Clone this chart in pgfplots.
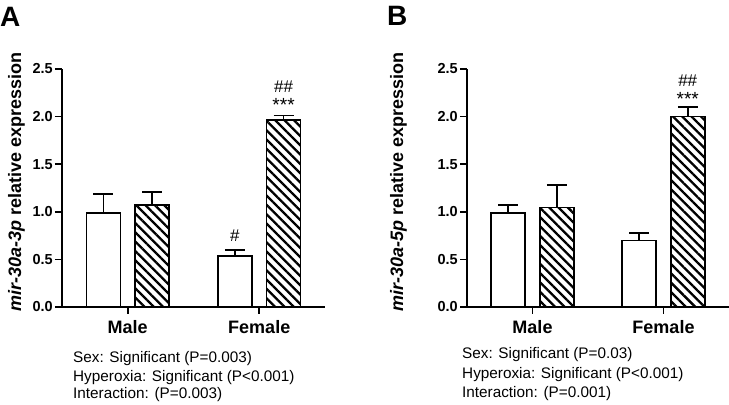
\documentclass[border=0pt]{standalone}
\usepackage{pgfplots}
\pgfplotsset{compat=1.18}
\usepackage{fontspec}
\setmainfont{Liberation Sans}
\usetikzlibrary{patterns.meta}
\pgfplotstableread{
x y e
0 0.985 0.20
1 0.535 0.065
}\Awhite
\pgfplotstableread{
x y e
0 1.07 0.135
1 1.967 0.045
}\Ahatch
\pgfplotstableread{
x y e
0 0.985 0.085
1 0.70 0.08
}\Bwhite
\pgfplotstableread{
x y e
0 1.045 0.235
1 2.00 0.10
}\Bhatch
\pgfplotsset{
  panel/.style={
    scale only axis, height=238bp,
    xmin=-0.5, xmax=1.5, ymin=0, ymax=2.5,
    axis x line*=bottom, axis y line*=left,
    axis line style={line width=1.6bp, black},
    x axis line style={shorten <=-5bp},
    xtick={0,1}, xticklabels={Male,Female},
    ytick={0,0.5,1,1.5,2,2.5},
    tick align=outside, major tick length=7bp,
    tick style={line width=1.6bp, black},
    xticklabel style={font=\fontsize{18bp}{20bp}\selectfont\bfseries, inner sep=0pt, anchor=base, yshift=-20bp},
    yticklabel style={font=\fontsize{14.5bp}{16bp}\selectfont\bfseries, inner sep=0pt, xshift=-2bp,
      /pgf/number format/fixed, /pgf/number format/fixed zerofill,
      /pgf/number format/precision=1, /pgf/number format/assume math mode=true},
    ybar, bar width=34bp,
    ylabel style={font=\fontsize{18bp}{20bp}\selectfont\bfseries, inner sep=0pt, anchor=south},
    error bars/y dir=plus, error bars/y explicit,
    error bars/error bar style={line width=1.6bp, black},
    error bars/error mark options={rotate=90, line width=1.6bp, black, mark size=10bp},
  },
  whitebar/.style={draw=black, line width=1.6bp, fill=white, bar shift=-24.3bp},
  hatchbar/.style={draw=black, line width=1.6bp, fill=white,
    postaction={pattern={Lines[angle=-45,distance=6.6bp,line width=2.3bp]}}, bar shift=24.3bp},
}
\begin{document}
\begin{tikzpicture}
\path[use as bounding box] (0,0) rectangle (729bp,405bp);
\begin{axis}[panel, width=263bp, at={(62bp,98bp)}, anchor=south west,
  ylabel={\textit{mir-30a-3p} relative expression},
  ylabel style={at={(axis description cs:-0.1407,0.527)}}]
\addplot[whitebar] table[x=x,y=y,y error=e]{\Awhite};
\addplot[hatchbar] table[x=x,y=y,y error=e]{\Ahatch};
\node[anchor=base, font=\fontsize{17bp}{18bp}\selectfont, inner sep=0pt] at (axis cs:0.815,0.683) {\#};
\node[anchor=base, font=\fontsize{17bp}{18bp}\selectfont, inner sep=0pt] at (axis cs:1.185,2.25) {\#\#};
\node[anchor=base, font=\fontsize{19bp}{20bp}\selectfont, inner sep=0pt] at (axis cs:1.185,2.05) {***};
\end{axis}
\begin{axis}[panel, width=262bp, at={(467bp,98bp)}, anchor=south west,
  ylabel={\textit{mir-30a-5p} relative expression},
  ylabel style={at={(axis description cs:-0.229,0.527)}}]
\addplot[whitebar] table[x=x,y=y,y error=e]{\Bwhite};
\addplot[hatchbar] table[x=x,y=y,y error=e]{\Bhatch};
\node[anchor=base, font=\fontsize{17bp}{18bp}\selectfont, inner sep=0pt] at (axis cs:1.185,2.32) {\#\#};
\node[anchor=base, font=\fontsize{19bp}{20bp}\selectfont, inner sep=0pt] at (axis cs:1.185,2.12) {***};
\end{axis}
\node[anchor=base west, inner sep=0pt, font=\fontsize{28bp}{30bp}\selectfont\bfseries] at (0bp,378bp) {A};
\node[anchor=base west, inner sep=0pt, font=\fontsize{28bp}{30bp}\selectfont\bfseries] at (387bp,379bp) {B};
\begin{scope}[every node/.style={anchor=base west, inner sep=0pt, font=\fontsize{15.3bp}{17bp}\selectfont}]
\node at (73bp,42bp) {Sex: Significant (P=0.003)};
\node at (73bp,24bp) {Hyperoxia: Significant (P<0.001)};
\node at (73bp,7bp) {Interaction: (P=0.003)};
\node at (462bp,46bp) {Sex: Significant (P=0.03)};
\node at (462bp,27bp) {Hyperoxia: Significant (P<0.001)};
\node at (462bp,8bp) {Interaction: (P=0.001)};
\end{scope}
\end{tikzpicture}
\end{document}
